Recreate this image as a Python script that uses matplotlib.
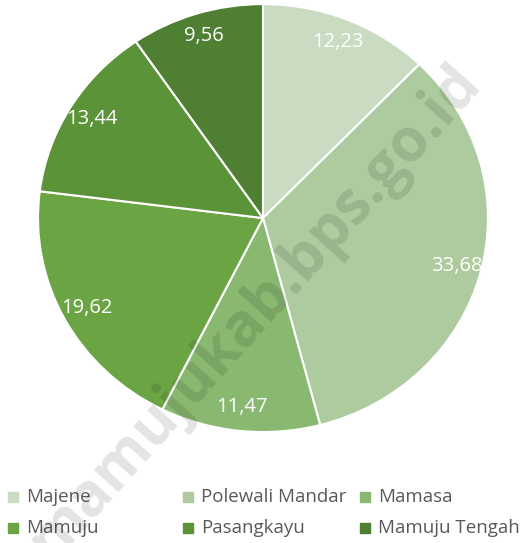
import matplotlib.pyplot as plt
from matplotlib.patches import Rectangle
import numpy as np

regions = ["Majene", "Polewali Mandar", "Mamasa", "Mamuju", "Pasangkayu", "Mamuju Tengah"]
shares = [12.23, 33.68, 11.47, 19.62, 13.44, 9.56]
colors = ["#C9DCC1", "#ADCB9E", "#89B870", "#6BA543", "#5B9338", "#4E7F32"]

plt.rcParams["font.family"] = ["Open Sans", "DejaVu Sans"]

fig = plt.figure(figsize=(5.22, 5.43), dpi=100)
ax = fig.add_axes([0.0728, 0.2044, 0.862, 0.788])

wedges, _ = ax.pie(
    shares,
    colors=colors,
    startangle=90,
    counterclock=False,
    wedgeprops=dict(edgecolor="white", linewidth=1.5),
)
ax.set_aspect("auto")
ax.set_xlim(-1, 1)
ax.set_ylim(-1, 1)

# value labels inside each slice, decimal comma
for w, v in zip(wedges, shares):
    mid = np.deg2rad((w.theta1 + w.theta2) / 2)
    r = 0.89
    ax.text(r * np.cos(mid), r * np.sin(mid), f"{v:.2f}".replace(".", ","),
            ha="center", va="center", color="white", fontsize=14.5)

# legend in three columns under the pie
col_x = [0.0153, 0.3506, 0.6897]
row_y = [0.0847, 0.0276]
for i, (name, c) in enumerate(zip(regions, colors)):
    x = col_x[i % 3]
    y = row_y[i // 3]
    fig.patches.append(Rectangle((x, y - 0.0095), 0.019, 0.019, color=c,
                                 transform=fig.transFigure))
    fig.text(x + 0.034, y, name, ha="left", va="center", fontsize=13.5, color="#595959")

# watermark
fig.text(0.489, 0.425, "mamujukab.bps.go.id", rotation=48, ha="center", va="center",
         fontsize=43, fontweight="bold", color="black", alpha=0.11)

fig.savefig("out.png", dpi=100)
